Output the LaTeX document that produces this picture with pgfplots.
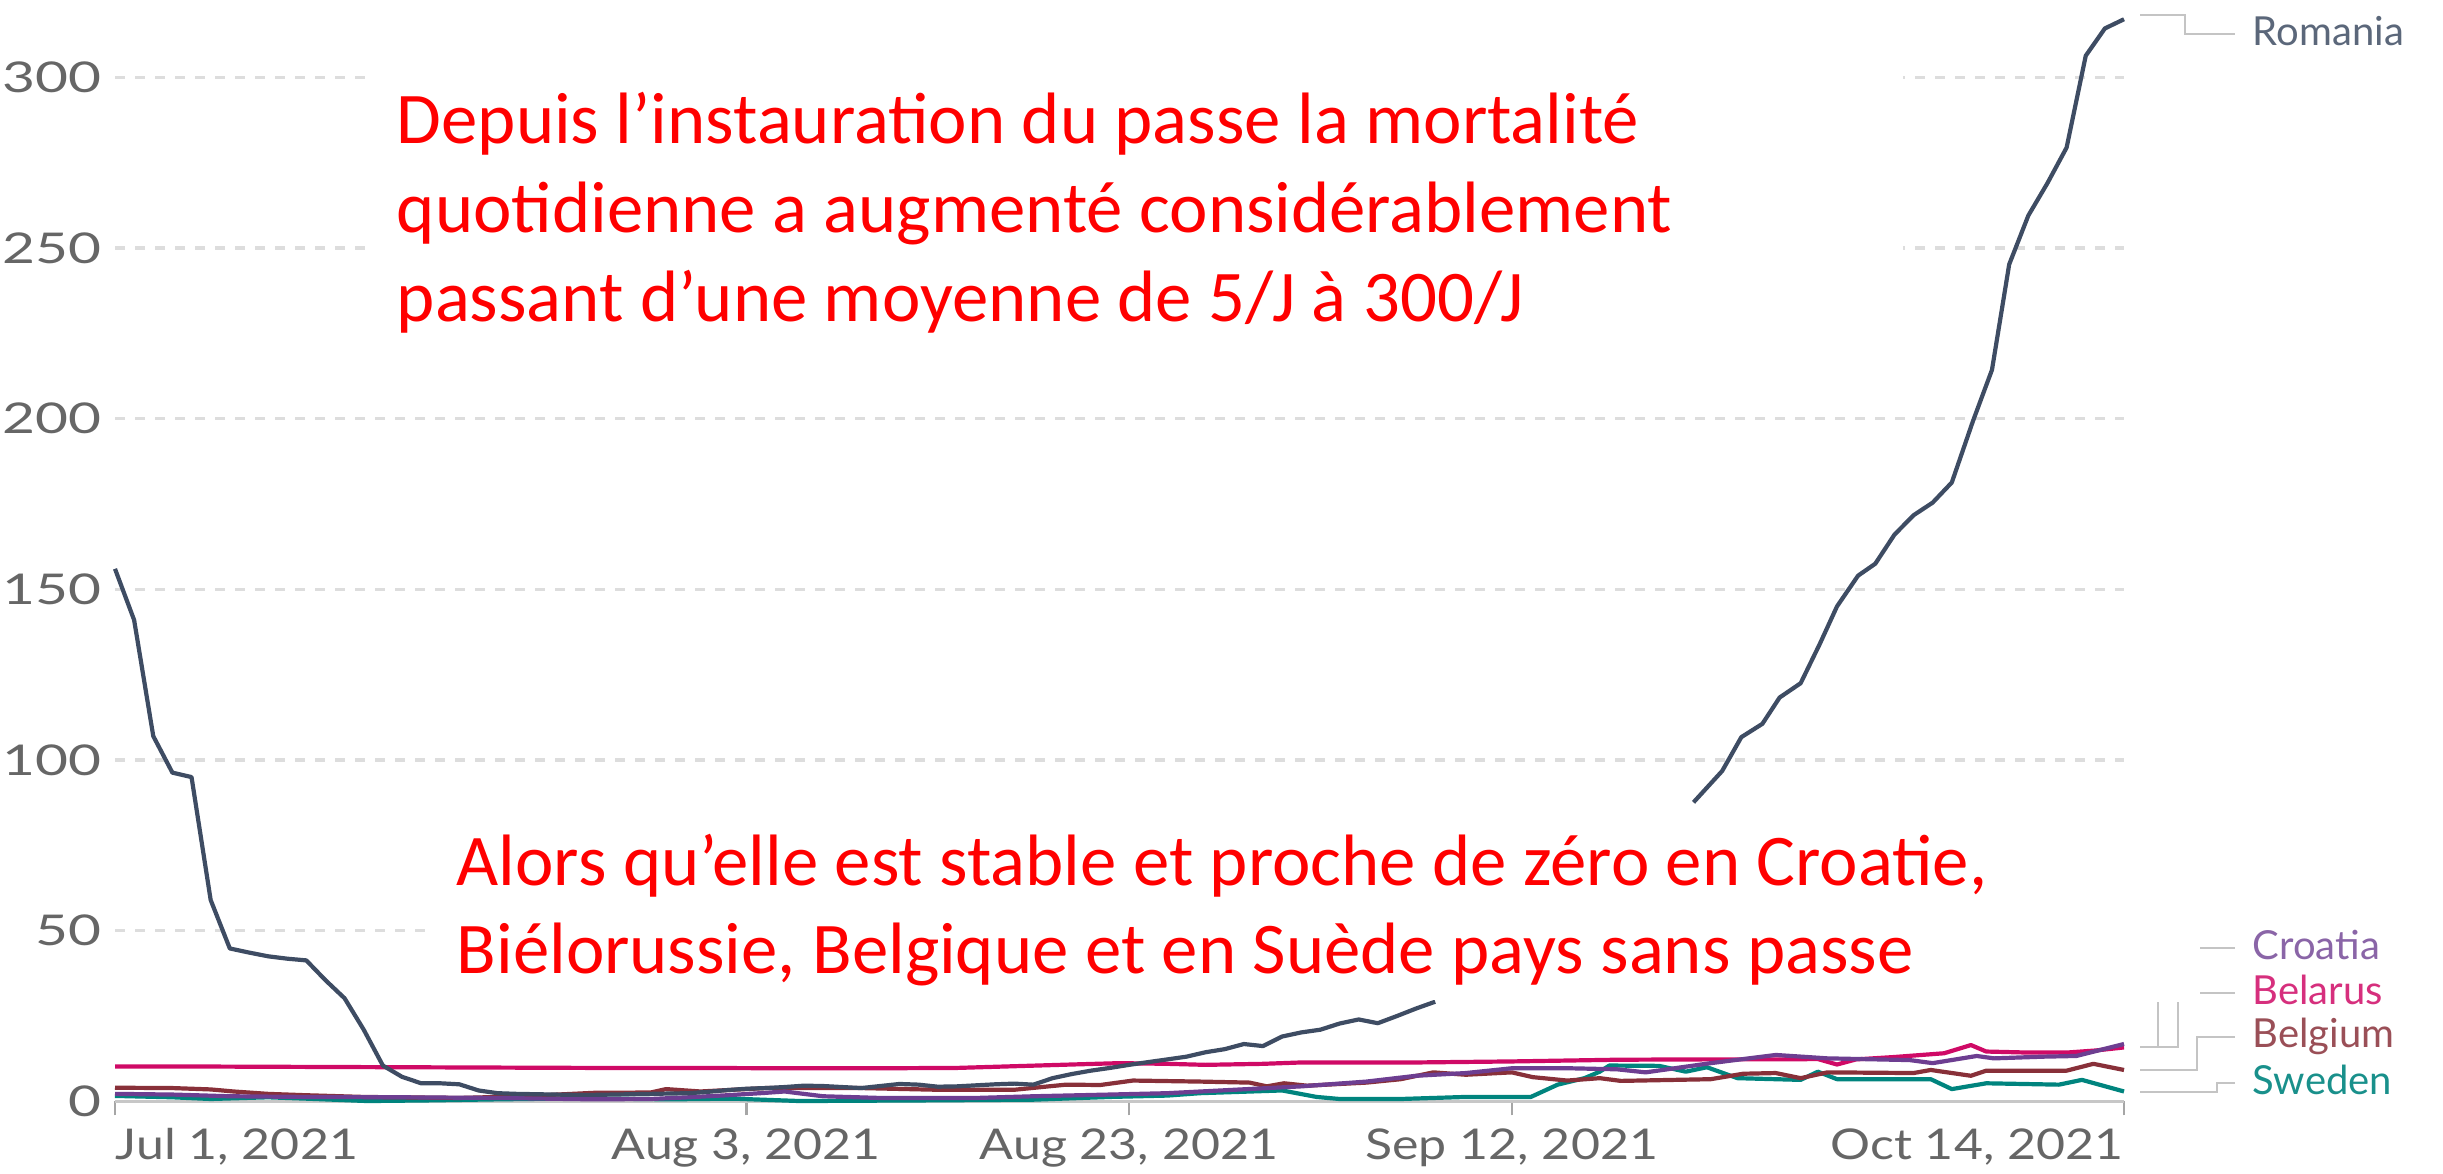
\documentclass[border=0pt]{standalone}
\usepackage{fontspec}
\setmainfont{Lato}
\newfontfamily\calibri{Carlito}
\newfontfamily\tickface[FakeStretch=1.18]{Lato}
\newfontfamily\ytickface[FakeStretch=1.34]{Lato}
\usepackage{pgfplots}
\pgfplotsset{compat=1.18}

\definecolor{romania}{HTML}{3E4C63}
\definecolor{croatia}{HTML}{6D3E91}
\definecolor{belarus}{HTML}{CF0A66}
\definecolor{belgium}{HTML}{883039}
\definecolor{sweden}{HTML}{00847E}
\definecolor{tickgray}{HTML}{666666}
\definecolor{gridgray}{HTML}{DDDDDD}
\definecolor{conngray}{HTML}{C4C4C4}
\definecolor{annot}{HTML}{FF0000}

\newcommand{\tickfont}{\tickface\fontsize{10.6}{12}\selectfont}
\newcommand{\ytickfont}{\ytickface\fontsize{10.6}{12}\selectfont}
\newcommand{\labfont}{\fontsize{10}{12}\selectfont}
\newcommand{\redfont}{\calibri\fontsize{18.2}{22}\selectfont}

\begin{document}
\begin{tikzpicture}
\begin{axis}[
    name=ax,
    scale only axis,
    width=502.25pt, height=273.1pt,
    xmin=0, xmax=105, ymin=0, ymax=320,
    clip=false,
    unbounded coords=jump,
    axis x line*=bottom, axis y line*=left,
    x axis line style={draw=black!22, line width=0.6pt, -},
    y axis line style={draw=none},
    xtick={0,33,53,73,105}, xticklabels={},
    xtick style={draw=black!35, line width=0.6pt},
    tick align=outside, major tick length=3.5pt,
    ytick={50,100,...,300},
    extra y ticks={0}, extra y tick style={grid=none},
    ytick style={draw=none},
    ymajorgrids,
    grid style={gridgray, line width=0.8pt, dash pattern=on 2.6pt off 2.4pt},
    yticklabel style={font=\ytickfont, text=tickgray, anchor=east, inner sep=0pt, xshift=0.4pt},
    /pgf/number format/assume math mode=true,
    every axis plot/.append style={line width=1.05pt, line join=round, mark=none},
]
% Sweden
\addplot[sweden] coordinates {(0,1.6) (3,1.2) (5,0.7) (8,1.2) (10,0.8) (13.2,0.1) (16.6,0.3) (20,0.6) (23,0.8) (26,0.8) (29,0.6) (32.3,0.8) (35.8,0.1) (42.8,0.3) (48,0.5) (52,1.3) (55,1.7) (56.7,2.4) (61,3.2) (62.8,1.3) (64,0.7) (67.2,0.7) (70.6,1.3) (74,1.3) (75.4,4.9) (76.8,6.8) (77.6,8.7) (78.1,10.5) (80.7,10.4) (82.1,8.7) (83.2,10.0) (84.8,6.8) (88.1,6.3) (89,8.7) (90,6.5) (94.9,6.5) (96,3.6) (97.8,5.3) (101.6,4.9) (102.8,6.3) (105,2.9)};
% Belgium
\addplot[belgium] coordinates {(0,4.0) (3,3.9) (5,3.5) (6.2,2.9) (8,2.2) (10,1.8) (13,1.3) (18,1.0) (20,1.3) (22,1.7) (25,2.5) (28,2.6) (28.8,3.6) (30.6,2.9) (34,3.9) (39,3.9) (43,3.4) (47,3.4) (49.7,4.9) (51.5,4.8) (53.2,6.1) (56.7,5.8) (59.3,5.5) (60.2,4.4) (61.1,5.3) (62.3,4.6) (65.4,5.5) (67.2,6.5) (68.9,8.5) (70.6,7.8) (73,8.5) (74.1,7.1) (75.9,6.1) (77.6,6.8) (78.7,6.0) (83.4,6.5) (85.1,8.1) (86.8,8.3) (88.1,6.8) (89.5,8.5) (94,8.3) (94.9,9.2) (97,7.5) (97.8,9.0) (102,9.0) (103.4,11) (105,9.2)};
% Belarus
\addplot[belarus] coordinates {(0,10.2) (5,10.2) (10,10.1) (15,10.0) (20,9.9) (25,9.8) (30,9.8) (35,9.7) (40,9.7) (44,9.8) (47,10.3) (50,10.8) (52.5,11.2) (55,11.0) (57,10.7) (60,11.0) (62,11.4) (68,11.4) (73,11.7) (78.5,12.2) (83,12.3) (87,12.3) (89,12.4) (90,10.8) (91,12.3) (93,13.0) (95.6,14.1) (97,16.5) (97.8,14.6) (100,14.3) (102,14.3) (103.5,14.9) (105,15.8)};
% Croatia
\addplot[croatia] coordinates {(0,2.2) (3,2.0) (6,1.5) (10,1.3) (15,1.2) (20,1.0) (25,0.6) (28,0.7) (30,1.2) (32,1.8) (34,2.5) (35,2.9) (37,1.5) (40,1.0) (45,1.0) (48,1.5) (52,2.0) (55,2.4) (58.5,3.4) (62,4.4) (65.4,5.8) (68,7.5) (70.6,8.3) (73,9.7) (76,9.7) (78.5,9.4) (80,8.5) (83.4,11.2) (86.8,13.6) (89.5,12.6) (93.8,12.1) (95,11.2) (97.3,13.3) (98.2,12.6) (100.8,13.1) (102.5,13.3) (105,16.8)};
% Romania
\addplot[romania] coordinates {(0,156) (1,141) (2,107) (3,96.3) (4,95) (5,59) (6,44.8) (7,43.6) (8,42.5) (9,41.8) (10,41.3) (11,35.5) (12,30.2) (13,21) (14,10.5) (15,7.2) (16,5.3) (17,5.3) (18,5) (19,3.2) (20,2.4) (21,2.2) (22,2.1) (23,2.0) (24,1.9) (25,1.9) (26,2.0) (27,2.1) (28,2.2) (29,2.3) (30,2.4) (31,2.8) (32,3.3) (33,3.7) (34,3.9) (35,4.2) (36,4.6) (37,4.5) (38,4.2) (39,3.9) (40,4.5) (41,5.1) (42,4.9) (43,4.3) (44,4.4) (45,4.7) (46,5.0) (47,5.2) (48,4.9) (49,6.8) (50,8.0) (51,9.0) (52,9.8) (53,10.7) (54,11.5) (55,12.3) (56,13.1) (57,14.4) (58,15.3) (59,16.8) (60,16.2) (61,19.0) (62,20.2) (63,21.0) (64,22.8) (65,24) (66,22.9) (67,25) (68,27.2) (69,29.2) (70,nan) (82.5,87.6) (84,96.8) (85,106.7) (86.1,110.6) (87,118.3) (88.1,122.5) (89.1,134) (90,145) (91.1,154) (92,157.5) (93,166) (94,171.7) (95,175.4) (96,181.3) (97.1,199.2) (98.1,214.3) (99,245.2) (100,259.5) (101,269) (102,279.4) (103,306.3) (104,314.3) (105,317)};

% date labels under the axis
\node[anchor=base west, inner sep=0pt, font=\tickfont, text=tickgray, yshift=-14.5pt] at (axis cs:0,0) {Jul 1, 2021};
\node[anchor=base, inner sep=0pt, font=\tickfont, text=tickgray, yshift=-14.5pt] at (axis cs:33,0) {Aug 3, 2021};
\node[anchor=base, inner sep=0pt, font=\tickfont, text=tickgray, yshift=-14.5pt] at (axis cs:53,0) {Aug 23, 2021};
\node[anchor=base, inner sep=0pt, font=\tickfont, text=tickgray, yshift=-14.5pt] at (axis cs:73,0) {Sep 12, 2021};
\node[anchor=base east, inner sep=0pt, font=\tickfont, text=tickgray, yshift=-14.5pt] at (axis cs:105,0) {Oct 14, 2021};
\end{axis}

% annotations, in pixels of the 2443x1174 picture (origin top left)
\begin{scope}[shift={(ax.south west)}, x=0.25pt, y=-0.25pt, shift={(-28.75pt,275.35pt)}]
  % white boxes behind the red text
  \fill[white] (375,40) rectangle (1903,360);
  \fill[white] (428,805) rectangle (2132,1000);
  \begin{scope}[every node/.style={anchor=base west, inner sep=0pt, font=\redfont, text=annot}]
    \node at (396,144) {Depuis l’instauration du passe la mortalité};
    \node at (396,233) {quotidienne a augmenté considérablement};
    \node at (396,322) {passant d’une moyenne de 5/J à 300/J};
    \node at (456,886) {Alors qu’elle est stable et proche de zéro en Croatie,};
    \node at (456,974) {Biélorussie, Belgique et en Suède pays sans passe};
  \end{scope}
  % connectors to the line labels
  \begin{scope}[conngray, line width=0.5pt]
    \draw (2140,15) -- (2185,15) -- (2185,34) -- (2235,34);
    \draw (2140,1047) -- (2178,1047) -- (2178,1002);
    \draw (2140,1047) -- (2158,1047) -- (2158,1002);
    \draw (2200,948) -- (2235,948);
    \draw (2200,993) -- (2235,993);
    \draw (2140,1070) -- (2197,1070) -- (2197,1037) -- (2235,1037);
    \draw (2140,1092) -- (2217,1092) -- (2217,1083) -- (2235,1083);
  \end{scope}
  \begin{scope}[every node/.style={anchor=base west, inner sep=0pt, font=\labfont}]
    \node[text=romania!85!white] at (2252,46) {Romania};
    \node[text=croatia!80!white] at (2252,960) {Croatia};
    \node[text=belarus!85!white] at (2252,1005) {Belarus};
    \node[text=belgium!85!white] at (2252,1048) {Belgium};
    \node[text=sweden!90!white] at (2252,1095) {Sweden};
  \end{scope}
  \pgfresetboundingbox
  \path[use as bounding box] (0,0) rectangle (2443,1174);
\end{scope}
\end{tikzpicture}
\end{document}
